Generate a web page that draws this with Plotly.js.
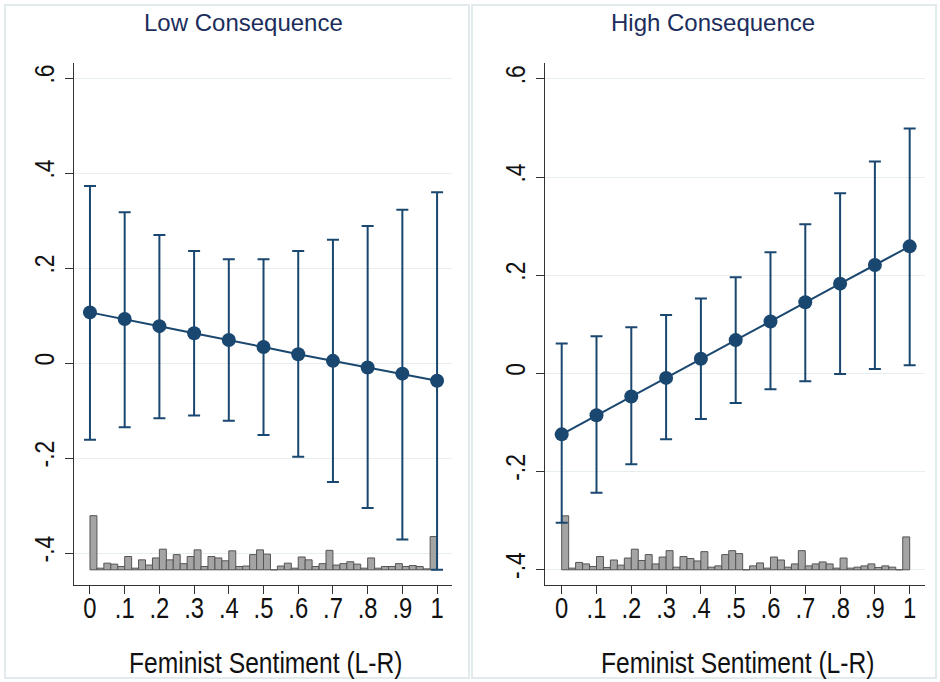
<!DOCTYPE html>
<html>
<head>
<meta charset="utf-8">
<script src="https://cdn.plot.ly/plotly-3.0.1.min.js"></script>
<style>html,body{margin:0;padding:0;background:#fff;}#chart{width:940px;height:682px;}</style>
</head>
<body>
<div id="chart"></div>
<script>
// ---- data ----
const sentiment = [0, 0.1, 0.2, 0.3, 0.4, 0.5, 0.6, 0.7, 0.8, 0.9, 1];
const xTickText = ['0', '.1', '.2', '.3', '.4', '.5', '.6', '.7', '.8', '.9', '1'];
const yTickVals = [-0.4, -0.2, 0, 0.2, 0.4, 0.6];
const yTickText = ['-.4', '-.2', '0', '.2', '.4', '.6'];

const lowEst   = [0.107, 0.093, 0.078, 0.063, 0.049, 0.034, 0.019, 0.005, -0.009, -0.022, -0.037];
const lowUpper = [0.373, 0.318, 0.270, 0.236, 0.219, 0.219, 0.236, 0.260, 0.289, 0.323, 0.360];
const lowLower = [-0.161, -0.135, -0.116, -0.110, -0.121, -0.151, -0.197, -0.250, -0.305, -0.371, -0.435];

const highEst   = [-0.124, -0.085, -0.047, -0.009, 0.030, 0.068, 0.106, 0.145, 0.183, 0.221, 0.259];
const highUpper = [0.061, 0.076, 0.094, 0.119, 0.153, 0.196, 0.247, 0.304, 0.367, 0.432, 0.499];
const highLower = [-0.304, -0.243, -0.185, -0.134, -0.093, -0.060, -0.032, -0.016, -0.001, 0.009, 0.017];

const binCenters = [0.01, 0.03, 0.05, 0.07, 0.09, 0.11, 0.13, 0.15, 0.17, 0.19,
                    0.21, 0.23, 0.25, 0.27, 0.29, 0.31, 0.33, 0.35, 0.37, 0.39,
                    0.41, 0.43, 0.45, 0.47, 0.49, 0.51, 0.53, 0.55, 0.57, 0.59,
                    0.61, 0.63, 0.65, 0.67, 0.69, 0.71, 0.73, 0.75, 0.77, 0.79,
                    0.81, 0.83, 0.85, 0.87, 0.89, 0.91, 0.93, 0.95, 0.97, 0.99];
const lowHistBase = -0.435;
const lowHist = [0.114, 0.0035, 0.014, 0.012, 0.007, 0.028, 0.0035, 0.021, 0.010, 0.025,
                 0.0435, 0.021, 0.032, 0.013, 0.028, 0.042, 0.007, 0.028, 0.025, 0.019,
                 0.040, 0.007, 0.008, 0.032, 0.042, 0.033, 0, 0.008, 0.014, 0.0035,
                 0.027, 0.021, 0.007, 0.013, 0.041, 0.010, 0.013, 0.017, 0.012, 0.0035,
                 0.025, 0.0035, 0.007, 0.007, 0.013, 0.007, 0.009, 0.007, 0.002, 0.070];
const highHistBase = -0.4;
const highHist = [0.110, 0.0034, 0.015, 0.012, 0.0068, 0.027, 0.0048, 0.020, 0.0095, 0.024,
                  0.042, 0.019, 0.031, 0.012, 0.026, 0.039, 0.0054, 0.027, 0.023, 0.018,
                  0.037, 0.0054, 0.008, 0.031, 0.039, 0.033, 0, 0.008, 0.014, 0.0034,
                  0.026, 0.020, 0.0054, 0.012, 0.039, 0.008, 0.012, 0.016, 0.012, 0.0034,
                  0.024, 0.0034, 0.0054, 0.008, 0.012, 0.0048, 0.008, 0.0054, 0, 0.067];

// ---- styling ----
const navy = '#1a476f';
const sans = '"Liberation Sans", Arial, sans-serif';

function histTrace(vals, base, xa, ya) {
  return {
    type: 'bar', x: binCenters, y: vals, base: base, width: 0.02,
    xaxis: xa, yaxis: ya, hoverinfo: 'skip',
    marker: {color: '#a4a4a4', line: {color: '#555555', width: 1}}
  };
}
function estTrace(est, up, lo, xa, ya) {
  return {
    type: 'scatter', mode: 'lines+markers', x: sentiment, y: est,
    xaxis: xa, yaxis: ya,
    line: {color: navy, width: 2},
    marker: {color: navy, size: 14},
    error_y: {
      type: 'data', symmetric: false,
      array: up.map((u, i) => u - est[i]),
      arrayminus: lo.map((l, i) => est[i] - l),
      color: navy, thickness: 2, width: 6
    }
  };
}

const data = [
  histTrace(lowHist, lowHistBase, 'x', 'y'),
  histTrace(highHist, highHistBase, 'x2', 'y2'),
  estTrace(lowEst, lowUpper, lowLower, 'x', 'y'),
  estTrace(highEst, highUpper, highLower, 'x2', 'y2')
];

function xAxis(domain, range) {
  return {
    domain: domain, range: range, tickvals: sentiment, ticktext: xTickText,
    ticks: 'outside', ticklen: 8, tickcolor: '#333', tickwidth: 1,
    ticklabelstandoff: -11,
    showline: true, linecolor: '#333', linewidth: 1, showgrid: false, zeroline: false,
    tickfont: {family: sans, size: 29, color: '#111'}, fixedrange: true
  };
}
function yAxis(range, anchor) {
  return {
    domain: [0.1422, 0.9076], range: range, anchor: anchor,
    tickvals: yTickVals, ticktext: yTickText, tickangle: -90,
    ticks: 'outside', ticklen: 8, tickcolor: '#333', tickwidth: 1,
    showline: true, linecolor: '#333', linewidth: 1,
    showgrid: true, gridcolor: '#e6eef0', gridwidth: 1, zeroline: false,
    tickfont: {family: sans, size: 28, color: '#111'}, fixedrange: true
  };
}

const layout = {
  width: 940, height: 682,
  margin: {l: 0, r: 0, t: 0, b: 0},
  paper_bgcolor: '#ffffff', plot_bgcolor: '#ffffff',
  showlegend: false, barmode: 'overlay',
  xaxis: Object.assign(xAxis([74/940, 452/940], [-0.046, 1.043]), {anchor: 'y'}),
  yaxis: yAxis([-0.467, 0.632], 'x'),
  xaxis2: Object.assign(xAxis([545/940, 925/940], [-0.048, 1.044]), {anchor: 'y2'}),
  yaxis2: yAxis([-0.431, 0.6325], 'x2'),
  shapes: [
    {type: 'rect', xref: 'paper', yref: 'paper', x0: 5/940, x1: 469/940, y0: 4/682, y1: 1 - 5/682,
     line: {color: '#e1eaed', width: 2}},
    {type: 'rect', xref: 'paper', yref: 'paper', x0: 472/940, x1: 936/940, y0: 4/682, y1: 1 - 5/682,
     line: {color: '#e1eaed', width: 2}}
  ],
  annotations: [
    {text: 'Low Consequence', xref: 'paper', yref: 'paper', x: 243/940, y: 1 - 23/682,
     xanchor: 'center', yanchor: 'middle', showarrow: false,
     font: {family: sans, size: 24, color: '#1c2d5c'}},
    {text: 'High Consequence', xref: 'paper', yref: 'paper', x: 713/940, y: 1 - 23/682,
     xanchor: 'center', yanchor: 'middle', showarrow: false,
     font: {family: sans, size: 24, color: '#1c2d5c'}},
    {text: 'Feminist Sentiment (L-R)', xref: 'paper', yref: 'paper', x: 265/940, y: 1 - 662/682,
     xanchor: 'center', yanchor: 'middle', showarrow: false,
     font: {family: sans, size: 30, color: '#111'}},
    {text: 'Feminist Sentiment (L-R)', xref: 'paper', yref: 'paper', x: 737/940, y: 1 - 662/682,
     xanchor: 'center', yanchor: 'middle', showarrow: false,
     font: {family: sans, size: 30, color: '#111'}}
  ]
};

// Condense axis text horizontally (narrow face look) using native SVG textLength
function condense(el, factor) {
  const len = el.getComputedTextLength();
  if (len > 0) {
    el.setAttribute('textLength', (len * factor).toFixed(2));
    el.setAttribute('lengthAdjust', 'spacingAndGlyphs');
  }
}

Plotly.newPlot('chart', data, layout, {displayModeBar: false, staticPlot: true}).then(function (gd) {
  gd.querySelectorAll('.xtick text, .x2tick text, .ytick text, .y2tick text').forEach(function (t) {
    condense(t, 0.82);
  });
  gd.querySelectorAll('.annotation-text').forEach(function (t) {
    if (t.textContent.indexOf('Feminist') === 0) condense(t, 0.82);
  });
});
</script>
</body>
</html>
